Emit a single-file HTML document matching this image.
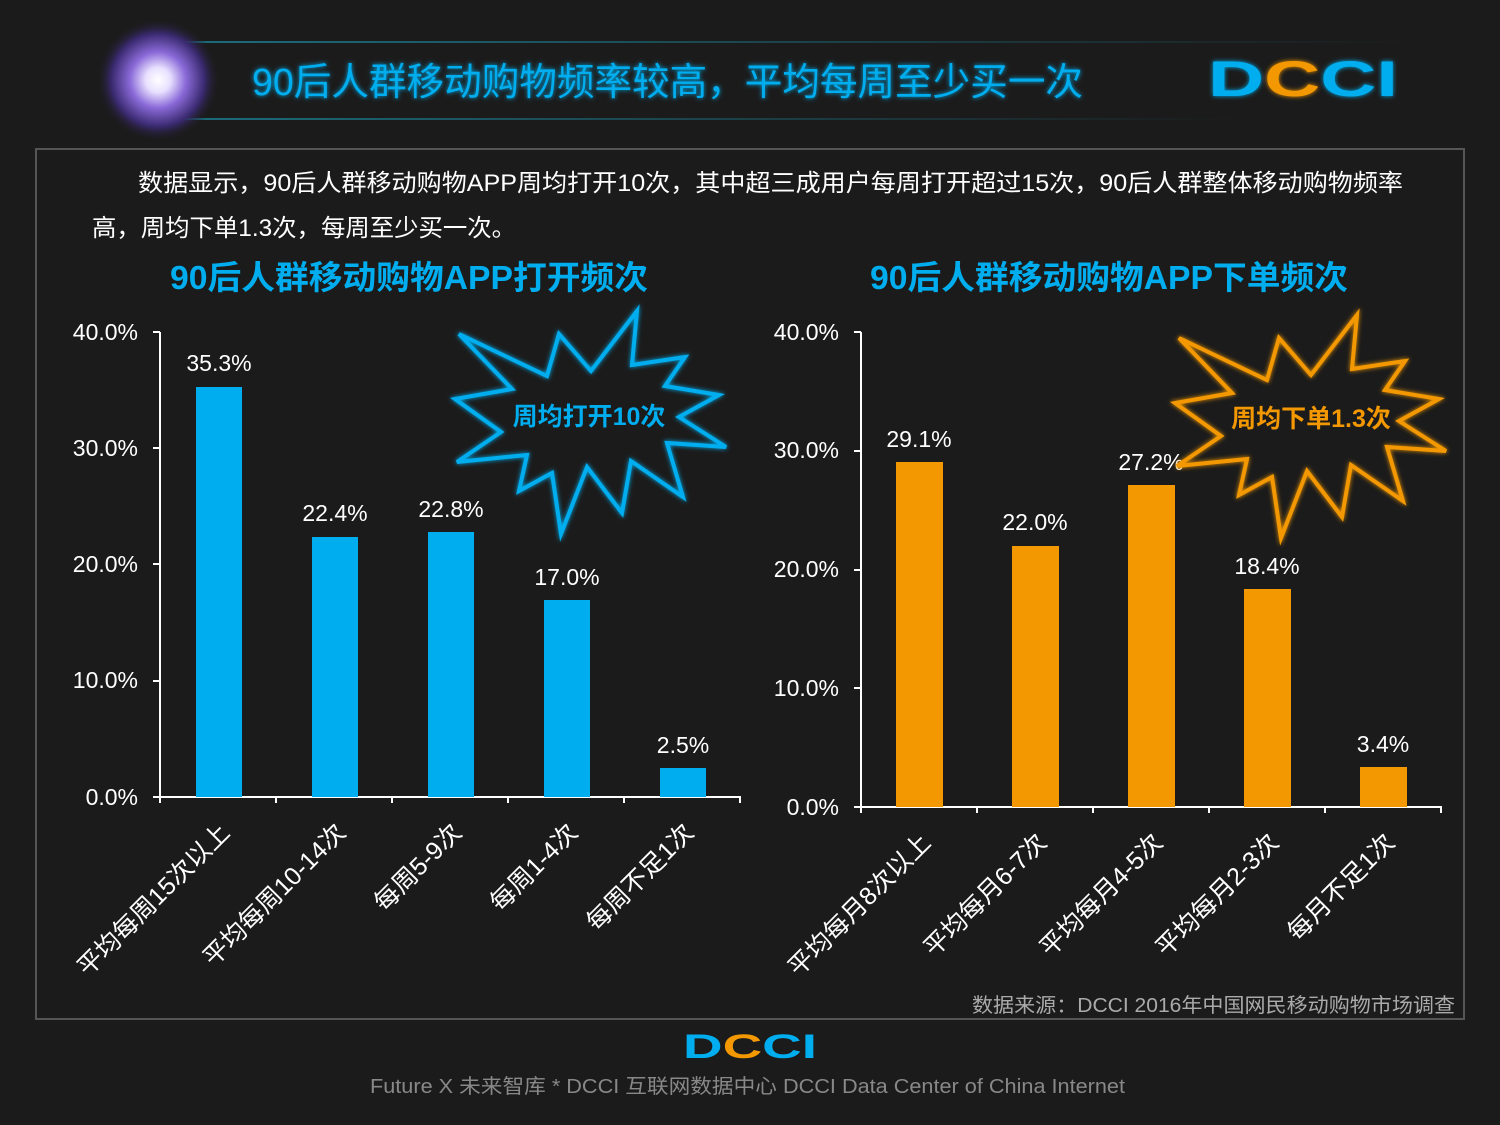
<!DOCTYPE html>
<html><head><meta charset="utf-8"><style>
html,body{margin:0;padding:0;background:#1b1b1b;}
svg{display:block;}
text{font-family:"Liberation Sans","Noto Sans CJK SC",sans-serif;}
</style></head><body>
<svg width="1500" height="1125" viewBox="0 0 1500 1125" xmlns="http://www.w3.org/2000/svg">
<defs>
<radialGradient id="orb" cx="50%" cy="50%" r="50%">
<stop offset="0" stop-color="#ffffff"/>
<stop offset="0.2" stop-color="#e8e0ff"/>
<stop offset="0.45" stop-color="#8a6ad8"/>
<stop offset="0.75" stop-color="#3a2a70"/>
<stop offset="1" stop-color="#1b1b1b" stop-opacity="0"/>
</radialGradient>
<linearGradient id="ln" x1="0" x2="1">
<stop offset="0" stop-color="#1b6f80"/>
<stop offset="1" stop-color="#1b1b1b"/>
</linearGradient>
<filter id="glow"><feGaussianBlur stdDeviation="2.5" result="b"/><feMerge><feMergeNode in="b"/><feMergeNode in="SourceGraphic"/></feMerge></filter>
</defs>
<rect width="1500" height="1125" fill="#1b1b1b"/>
<rect x="140" y="41" width="1270" height="2" fill="url(#ln)"/>
<rect x="140" y="118" width="1100" height="2" fill="url(#ln)"/>
<circle cx="158" cy="80" r="62" fill="url(#orb)"/>
<text x="252" y="95" font-size="38" fill="#00aeef" filter="url(#glow)" textLength="831" lengthAdjust="spacingAndGlyphs">90后人群移动购物频率较高，平均每周至少买一次</text>
<g font-family="Liberation Sans" font-weight="bold" font-size="50" filter="url(#glow)">
<text x="1208" y="96" fill="#00aeef" textLength="190" lengthAdjust="spacingAndGlyphs">D<tspan fill="#f39800">C</tspan>CI</text>
</g>
<rect x="36" y="149" width="1428" height="870" fill="none" stroke="#555" stroke-width="2"/>
<text x="138" y="191" font-size="24" fill="#fff" textLength="1265" lengthAdjust="spacingAndGlyphs">数据显示，90后人群移动购物APP周均打开10次，其中超三成用户每周打开超过15次，90后人群整体移动购物频率</text>
<text x="92" y="236" font-size="24" fill="#fff" textLength="424" lengthAdjust="spacingAndGlyphs">高，周均下单1.3次，每周至少买一次。</text>
<text x="170" y="289" font-size="33" font-weight="bold" fill="#00aeef" textLength="478" lengthAdjust="spacingAndGlyphs">90后人群移动购物APP打开频次</text>
<text x="870" y="289" font-size="33" font-weight="bold" fill="#00aeef" textLength="478" lengthAdjust="spacingAndGlyphs">90后人群移动购物APP下单频次</text>

<g fill="#fff" font-size="23" text-anchor="end">
<text x="138" y="340">40.0%</text><text x="138" y="456">30.0%</text><text x="138" y="572">20.0%</text><text x="138" y="688">10.0%</text><text x="138" y="805">0.0%</text>
</g>
<g stroke="#fff" stroke-width="2">
<line x1="160" y1="332" x2="160" y2="803"/>
<line x1="159" y1="797" x2="741" y2="797"/>
<line x1="153" y1="332" x2="160" y2="332"/><line x1="153" y1="448" x2="160" y2="448"/><line x1="153" y1="564" x2="160" y2="564"/><line x1="153" y1="681" x2="160" y2="681"/><line x1="153" y1="797" x2="160" y2="797"/>
<line x1="276" y1="797" x2="276" y2="803"/><line x1="392" y1="797" x2="392" y2="803"/><line x1="508" y1="797" x2="508" y2="803"/><line x1="624" y1="797" x2="624" y2="803"/><line x1="740" y1="797" x2="740" y2="803"/>
</g>
<g fill="#00aeef">
<rect x="196" y="387" width="46" height="410"/>
<rect x="312" y="537" width="46" height="260"/>
<rect x="428" y="532" width="46" height="265"/>
<rect x="544" y="600" width="46" height="197"/>
<rect x="660" y="768" width="46" height="29"/>
</g>
<g fill="#fff" font-size="23" text-anchor="middle">
<text x="219" y="371">35.3%</text><text x="335" y="521">22.4%</text><text x="451" y="517">22.8%</text><text x="567" y="585">17.0%</text><text x="683" y="753">2.5%</text>
</g>
<g fill="#fff" font-size="25" text-anchor="end">
<text transform="translate(231,834) rotate(-45)">平均每周15次以上</text>
<text transform="translate(347,834) rotate(-45)">平均每周10-14次</text>
<text transform="translate(463,834) rotate(-45)">每周5-9次</text>
<text transform="translate(579,834) rotate(-45)">每周1-4次</text>
<text transform="translate(695,834) rotate(-45)">每周不足1次</text>
</g>
<polygon points="459,334 547,376 559,334 591,371 637,311 632,365 685,357 665,386 719,395 679,417 726,447 667,443 683,497 631,461 622,513 587,467 561,534 552,473 519,491 527,455 457,462 501,432 455,399 512,389" fill="none" stroke="#00aeef" stroke-width="4" filter="url(#glow)"/>
<text x="589" y="425" font-size="25" font-weight="bold" fill="#00aeef" text-anchor="middle">周均打开10次</text>

<g fill="#fff" font-size="23" text-anchor="end">
<text x="839" y="340">40.0%</text><text x="839" y="458">30.0%</text><text x="839" y="577">20.0%</text><text x="839" y="696">10.0%</text><text x="839" y="815">0.0%</text>
</g>
<g stroke="#fff" stroke-width="2">
<line x1="861" y1="332" x2="861" y2="813"/>
<line x1="860" y1="807" x2="1442" y2="807"/>
<line x1="854" y1="332" x2="861" y2="332"/><line x1="854" y1="451" x2="861" y2="451"/><line x1="854" y1="570" x2="861" y2="570"/><line x1="854" y1="688" x2="861" y2="688"/><line x1="854" y1="807" x2="861" y2="807"/>
<line x1="977" y1="807" x2="977" y2="813"/><line x1="1093" y1="807" x2="1093" y2="813"/><line x1="1209" y1="807" x2="1209" y2="813"/><line x1="1325" y1="807" x2="1325" y2="813"/><line x1="1441" y1="807" x2="1441" y2="813"/>
</g>
<g fill="#f39800">
<rect x="896" y="462" width="47" height="345"/>
<rect x="1012" y="546" width="47" height="261"/>
<rect x="1128" y="485" width="47" height="322"/>
<rect x="1244" y="589" width="47" height="218"/>
<rect x="1360" y="767" width="47" height="40"/>
</g>
<g fill="#fff" font-size="23" text-anchor="middle">
<text x="919" y="447">29.1%</text><text x="1035" y="530">22.0%</text><text x="1151" y="470">27.2%</text><text x="1267" y="574">18.4%</text><text x="1383" y="752">3.4%</text>
</g>
<g fill="#fff" font-size="25" text-anchor="end">
<text transform="translate(932,844) rotate(-45)">平均每月8次以上</text>
<text transform="translate(1048,844) rotate(-45)">平均每月6-7次</text>
<text transform="translate(1164,844) rotate(-45)">平均每月4-5次</text>
<text transform="translate(1280,844) rotate(-45)">平均每月2-3次</text>
<text transform="translate(1396,844) rotate(-45)">每月不足1次</text>
</g>
<polygon transform="translate(720,4)" points="459,334 547,376 559,334 591,371 637,311 632,365 685,357 665,386 719,395 679,417 726,447 667,443 683,497 631,461 622,513 587,467 561,534 552,473 519,491 527,455 457,462 501,432 455,399 512,389" fill="none" stroke="#f39800" stroke-width="4" filter="url(#glow)"/>
<text x="1311" y="427" font-size="25" font-weight="bold" fill="#f39800" text-anchor="middle">周均下单1.3次</text>

<text x="972" y="1012" font-size="20" fill="#aaa" textLength="483" lengthAdjust="spacingAndGlyphs">数据来源：DCCI 2016年中国网民移动购物市场调查</text>

<text x="683" y="1058" font-family="Liberation Sans" font-weight="bold" font-size="34" fill="#00aeef" textLength="134" lengthAdjust="spacingAndGlyphs">D<tspan fill="#f39800">C</tspan>CI</text>
<text x="370" y="1093" font-size="20" fill="#888" textLength="755" lengthAdjust="spacingAndGlyphs">Future X 未来智库 * DCCI 互联网数据中心 DCCI Data Center of China Internet</text>
</svg>
</body></html>
